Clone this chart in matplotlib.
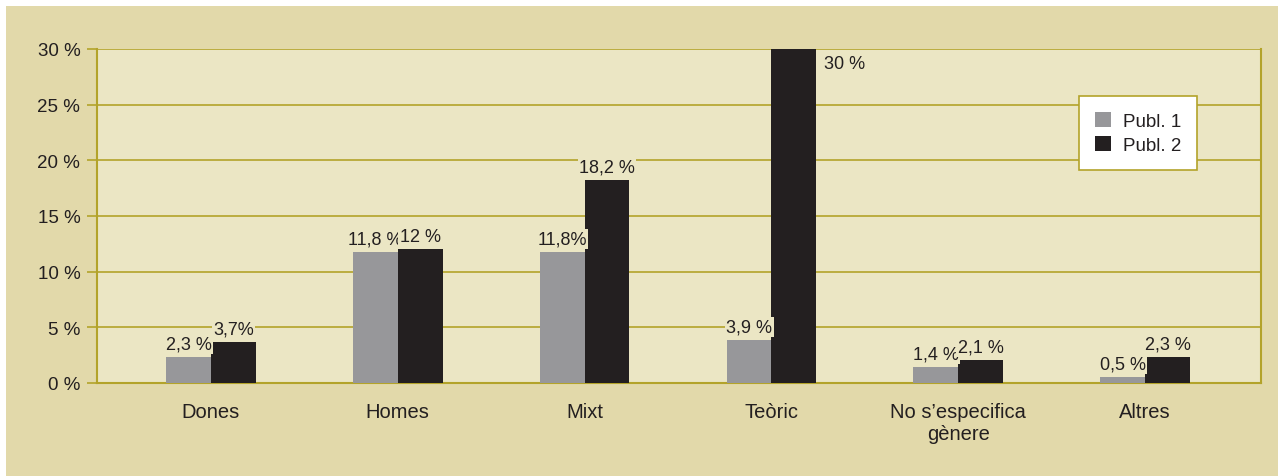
import numpy as np
import matplotlib.pyplot as plt
from matplotlib.patches import Rectangle

categories = ["Dones", "Homes", "Mixt", "Teòric", "No s’especifica\ngènere", "Altres"]
publ1 = [2.3, 11.8, 11.8, 3.9, 1.4, 0.5]
publ2 = [3.7, 12.0, 18.2, 30.0, 2.1, 2.3]
labels1 = ["2,3 %", "11,8 %", "11,8%", "3,9 %", "1,4 %", "0,5 %"]
labels2 = ["3,7%", "12 %", "18,2 %", "30 %", "2,1 %", "2,3 %"]
yticks = [0, 5, 10, 15, 20, 25, 30]

outer = "#e2d9aa"
panel = "#ebe6c4"
olive = "#b3a32a"
grey = "#97979a"
black = "#231f20"
txt = "#231f20"

plt.rcParams['font.family'] = ['Liberation Sans', 'DejaVu Sans']

fig = plt.figure(figsize=(12.84, 4.77), dpi=100)
fig.patch.set_facecolor("white")
fig.patches.append(Rectangle((6 / 1284, 0), 1272 / 1284, 470 / 477,
                             transform=fig.transFigure, facecolor=outer,
                             edgecolor="none", zorder=-10))

ax = fig.add_axes([97 / 1284, 1 - 384 / 477, 1164 / 1284, 334 / 477])
ax.set_facecolor(panel)

x = np.arange(len(categories))
w = 0.24
b1 = ax.bar(x - w / 2, publ1, w, color=grey, label="Publ. 1", zorder=3)
b2 = ax.bar(x + w / 2, publ2, w, color=black, label="Publ. 2", zorder=3)

for i in range(len(categories)):
    ax.text(x[i] - w / 2, publ1[i] + 0.4, labels1[i], ha="center", va="bottom",
            fontsize=13, color=txt, zorder=4,
            bbox=dict(facecolor=panel, edgecolor="none", pad=1))
    if publ2[i] >= 30:
        ax.text(x[i] + w + 0.04, publ2[i] - 0.5, labels2[i], ha="left", va="top",
                fontsize=13, color=txt, zorder=4)
    else:
        ax.text(x[i] + w / 2, publ2[i] + 0.4, labels2[i], ha="center", va="bottom",
                fontsize=13, color=txt, zorder=4,
                bbox=dict(facecolor=panel, edgecolor="none", pad=1))

ax.set_xlim(-0.61, len(categories) - 1 + 0.62)
ax.set_ylim(0, 30)
ax.set_yticks(yticks)
ax.set_yticklabels([f"{t} %" for t in yticks], fontsize=13.5, color=txt)
ax.set_xticks(x)
ax.set_xticklabels(categories, fontsize=14.5, color=txt, linespacing=1.15)
ax.tick_params(axis="x", length=0, pad=14)
ax.tick_params(axis="y", length=7, color=olive, width=1.2, pad=5)
ax.yaxis.grid(True, color=olive, linewidth=1.2, zorder=1)
ax.set_axisbelow(True)
for s in ["left", "bottom", "right"]:
    ax.spines[s].set_color(olive)
    ax.spines[s].set_linewidth(1.5)
ax.spines["top"].set_visible(False)

leg = ax.legend(loc="upper left", bbox_to_anchor=(0.844, 0.858), fontsize=13.5,
                frameon=True, fancybox=False, handlelength=0.85, handleheight=0.85,
                handletextpad=0.6, borderpad=0.85, labelspacing=0.3, borderaxespad=0)
leg.get_frame().set_edgecolor(olive)
leg.get_frame().set_linewidth(1.2)
leg.get_frame().set_facecolor("white")
leg.get_frame().set_alpha(1)
for t in leg.get_texts():
    t.set_color(txt)

plt.savefig("out.png", dpi=100, facecolor=fig.get_facecolor())
